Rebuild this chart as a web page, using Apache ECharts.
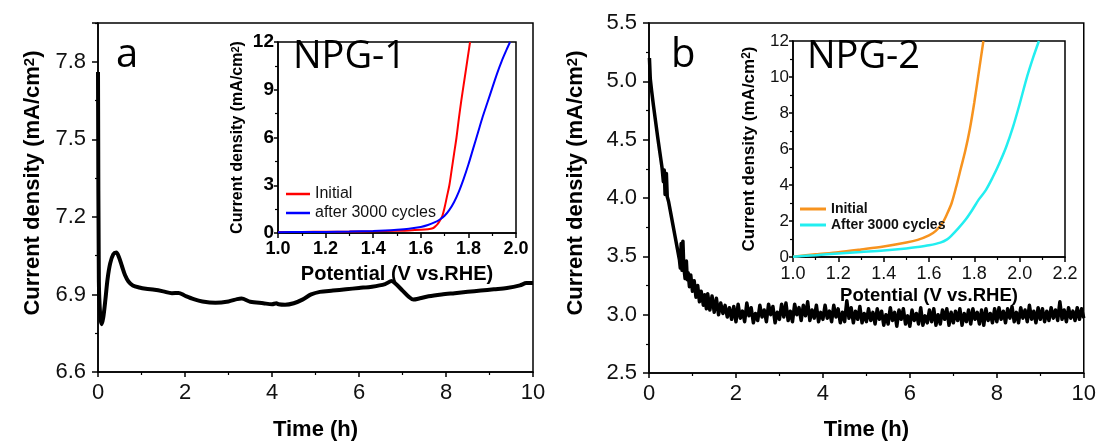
<!DOCTYPE html>
<html>
<head>
<meta charset="utf-8">
<title>NPG stability</title>
<script src="https://cdn.jsdelivr.net/npm/echarts@6/dist/echarts.min.js"></script>
<style>
  html, body { margin: 0; padding: 0; background: #fff; }
  #chart { width: 1099px; height: 446px; }
</style>
</head>
<body>
<div id="chart"></div>
<script>
// ---- data ----
// panel a: NPG-1 chronoamperometry (time h, current mA/cm2)
const npg1Time = [0, 0.02, 0.05, 0.08, 0.12, 0.17, 0.22, 0.28, 0.35, 0.42, 0.48, 0.55, 0.62, 0.7, 0.8, 0.95,
  1.1, 1.3, 1.5, 1.7, 1.85, 2.0, 2.2, 2.4, 2.7, 3.0, 3.2, 3.3, 3.5, 3.8, 4.0, 4.1, 4.15, 4.3, 4.5, 4.7,
  4.9, 5.1, 5.4, 5.7, 6.0, 6.3, 6.6, 6.75, 6.85, 7.0, 7.15, 7.25, 7.4, 7.6, 7.9, 8.2, 8.5, 8.8, 9.1,
  9.4, 9.7, 9.85, 10];
const npg1Current = [7.76, 6.95, 6.82, 6.785, 6.81, 6.88, 6.96, 7.02, 7.055, 7.062, 7.045, 7.01, 6.975, 6.95, 6.935, 6.927,
  6.922, 6.918, 6.912, 6.905, 6.906, 6.895, 6.882, 6.873, 6.868, 6.873, 6.882, 6.884, 6.872, 6.866, 6.862, 6.866, 6.862, 6.86, 6.866, 6.88,
  6.9, 6.91, 6.915, 6.92, 6.925, 6.93, 6.94, 6.952, 6.94, 6.915, 6.89, 6.88, 6.885, 6.893, 6.9, 6.905, 6.91, 6.915, 6.92,
  6.925, 6.935, 6.944, 6.944];

// panel b: NPG-2 chronoamperometry, [time h, current mA/cm2]
const npg2Stability = [
  [0.01, 5.20], [0.03, 5.02], [0.06, 4.92], [0.10, 4.80], [0.15, 4.66], [0.20, 4.52], [0.25, 4.39], [0.30, 4.26],
  [0.33, 4.14], [0.35, 4.24], [0.37, 4.03], [0.40, 4.21], [0.42, 4.01], [0.45, 3.97], [0.50, 3.87], [0.55, 3.77],
  [0.60, 3.67], [0.65, 3.57], [0.70, 3.47], [0.72, 3.40], [0.74, 3.61], [0.76, 3.38], [0.78, 3.63], [0.80, 3.41],
  [0.83, 3.31], [0.86, 3.46], [0.88, 3.30], [0.90, 3.36], [0.93, 3.24], [0.96, 3.34], [1.00, 3.20], [1.04, 3.29],
  [1.08, 3.15], [1.12, 3.25], [1.16, 3.11], [1.20, 3.20], [1.25, 3.08], [1.28, 3.17], [1.32, 3.05], [1.35, 3.18],
  [1.40, 3.04], [1.45, 3.16], [1.50, 3.02], [1.55, 3.14], [1.60, 3.00], [1.65, 3.10], [1.70, 3.01], [1.75, 3.08],
  [1.80, 2.98], [1.85, 3.06], [1.90, 2.96], [1.95, 3.07], [2.00, 2.94],
  [2.05, 3.09], [2.10, 2.97], [2.15, 3.03], [2.20, 2.94], [2.25, 3.10], [2.30, 2.99], [2.35, 3.06], [2.40, 2.93],
  [2.45, 3.01], [2.50, 2.95], [2.55, 3.08], [2.60, 2.98], [2.65, 3.04], [2.70, 2.94], [2.75, 3.09], [2.80, 3.00],
  [2.85, 3.07], [2.90, 2.93], [2.95, 3.02], [3.00, 2.96],
  [3.05, 3.09], [3.10, 2.98], [3.15, 3.10], [3.20, 2.95], [3.25, 3.03], [3.30, 2.94], [3.35, 3.09], [3.40, 3.00],
  [3.45, 3.06], [3.50, 2.95], [3.55, 3.08], [3.60, 2.99], [3.65, 3.11], [3.70, 2.95], [3.75, 3.04], [3.80, 2.97],
  [3.85, 3.08], [3.90, 2.94], [3.95, 3.02], [4.00, 2.96],
  [4.05, 3.08], [4.10, 2.97], [4.15, 3.03], [4.20, 2.94], [4.25, 3.08], [4.30, 2.98], [4.35, 3.05], [4.40, 2.93],
  [4.45, 3.02], [4.50, 2.94], [4.55, 3.12], [4.60, 2.97], [4.65, 3.06], [4.70, 2.93], [4.75, 3.03], [4.80, 2.96],
  [4.85, 3.07], [4.90, 2.93], [4.95, 3.01], [5.00, 2.94],
  [5.05, 3.05], [5.10, 2.95], [5.15, 3.02], [5.20, 2.92], [5.25, 3.05], [5.30, 2.96], [5.35, 3.03], [5.40, 2.91],
  [5.45, 3.00], [5.50, 2.92], [5.55, 3.06], [5.60, 2.95], [5.65, 3.02], [5.70, 2.90], [5.75, 3.04], [5.80, 2.96],
  [5.85, 3.05], [5.90, 2.92], [5.95, 2.99], [6.00, 2.90],
  [6.05, 3.04], [6.10, 2.95], [6.15, 3.01], [6.20, 2.92], [6.25, 3.06], [6.30, 2.91], [6.35, 2.99], [6.40, 2.93],
  [6.45, 3.04], [6.50, 2.94], [6.55, 3.05], [6.60, 2.91], [6.65, 3.00], [6.70, 2.92], [6.75, 3.04], [6.80, 2.96],
  [6.85, 3.05], [6.90, 2.91], [6.95, 3.02], [7.00, 2.93],
  [7.05, 3.03], [7.10, 2.95], [7.15, 3.05], [7.20, 2.91], [7.25, 3.01], [7.30, 2.94], [7.35, 3.04], [7.40, 2.92],
  [7.45, 3.05], [7.50, 2.96], [7.55, 3.02], [7.60, 2.92], [7.65, 3.04], [7.70, 2.91], [7.75, 3.05], [7.80, 2.95],
  [7.85, 3.01], [7.90, 2.93], [7.95, 3.05], [8.00, 2.94],
  [8.05, 3.06], [8.10, 2.96], [8.15, 3.03], [8.20, 2.93], [8.25, 3.05], [8.30, 2.97], [8.35, 3.07], [8.40, 2.94],
  [8.45, 3.02], [8.50, 2.93], [8.55, 3.06], [8.60, 2.97], [8.65, 3.04], [8.70, 2.94], [8.75, 3.08], [8.80, 2.96],
  [8.85, 3.03], [8.90, 2.93], [8.95, 3.06], [9.00, 2.96],
  [9.05, 3.05], [9.10, 2.94], [9.15, 3.03], [9.20, 2.95], [9.25, 3.06], [9.30, 2.97], [9.35, 3.04], [9.40, 2.95],
  [9.45, 3.11], [9.50, 2.96], [9.55, 3.04], [9.60, 2.94], [9.65, 3.06], [9.70, 2.97], [9.75, 3.03], [9.80, 2.95],
  [9.85, 3.06], [9.90, 2.96], [9.95, 3.05], [10.00, 2.97]
];

// inset a: NPG-1 LSV, [potential V vs RHE, current mA/cm2]
const npg1Initial = [[1.0, 0.06], [1.1, 0.07], [1.2, 0.08], [1.3, 0.09], [1.4, 0.11], [1.5, 0.14], [1.55, 0.16],
  [1.6, 0.2], [1.63, 0.24], [1.65, 0.3], [1.66, 0.4], [1.67, 0.55], [1.68, 0.78], [1.69, 1.05], [1.70, 1.6],
  [1.71, 2.3], [1.72, 3.0], [1.73, 4.0], [1.74, 5.0], [1.75, 6.0], [1.76, 7.2], [1.77, 8.3], [1.78, 9.3],
  [1.79, 10.3], [1.80, 11.3], [1.807, 12]];
const npg1After = [[1.0, 0.05], [1.1, 0.06], [1.2, 0.07], [1.3, 0.09], [1.4, 0.12], [1.45, 0.15], [1.5, 0.2],
  [1.55, 0.27], [1.6, 0.38], [1.63, 0.5], [1.66, 0.68], [1.68, 0.85], [1.7, 1.08], [1.72, 1.45], [1.74, 1.95],
  [1.76, 2.6], [1.78, 3.4], [1.8, 4.3], [1.82, 5.3], [1.84, 6.3], [1.86, 7.3], [1.88, 8.2], [1.9, 9.1],
  [1.92, 10.0], [1.94, 10.8], [1.96, 11.5], [1.975, 12]];

// inset b: NPG-2 LSV
const npg2Initial = [[1.0, 0.02], [1.1, 0.15], [1.2, 0.27], [1.3, 0.42], [1.4, 0.58], [1.5, 0.8], [1.55, 0.95],
  [1.6, 1.2], [1.63, 1.45], [1.66, 1.9], [1.68, 2.4], [1.70, 3.0], [1.72, 3.9], [1.74, 4.9], [1.76, 5.9],
  [1.78, 7.1], [1.80, 8.6], [1.82, 10.3], [1.84, 12]];
const npg2After = [[1.0, 0.02], [1.1, 0.1], [1.2, 0.2], [1.3, 0.28], [1.4, 0.36], [1.5, 0.47], [1.55, 0.55],
  [1.6, 0.65], [1.65, 0.8], [1.68, 0.98], [1.7, 1.2], [1.73, 1.6], [1.76, 2.05], [1.79, 2.6], [1.82, 3.2],
  [1.85, 3.7], [1.88, 4.4], [1.91, 5.2], [1.94, 6.1], [1.97, 7.2], [2.0, 8.5], [2.03, 9.9], [2.06, 11.1],
  [2.085, 12]];

const FONT = 'Liberation Sans, Arial, sans-serif';
const densityName = 'Current density (mA/cm{s|2})';

// shared axis look: black lines, ticks pointing out, minor ticks
function axisStyle(opt) {
  return Object.assign({
    type: 'value',
    splitLine: { show: false },
    axisLine: { show: true, onZero: false, lineStyle: { color: '#000', width: 1.5 } },
    axisTick: { show: true, inside: false, length: 5, lineStyle: { color: '#000', width: 1.5 } },
    minorTick: { show: true, splitNumber: 2, length: 3, lineStyle: { color: '#000', width: 1.2 } },
    nameLocation: 'middle'
  }, opt);
}

const chartInstance = echarts.init(document.getElementById('chart'), null, { renderer: 'canvas' });

const option = {
  animation: false,
  backgroundColor: '#fff',
  grid: [
    { left: 98, top: 23, width: 435, height: 353, show: true, borderColor: '#000', borderWidth: 1.5 },
    { left: 649, top: 23, width: 435, height: 350, show: true, borderColor: '#000', borderWidth: 1.5 },
    { left: 278, top: 42, width: 238, height: 191, show: true, backgroundColor: '#fff', borderColor: '#000', borderWidth: 1.5 },
    { left: 793, top: 41, width: 272, height: 216, show: true, backgroundColor: '#fff', borderColor: '#000', borderWidth: 1.5 }
  ],
  xAxis: [
    axisStyle({
      gridIndex: 0, min: 0, max: 10, interval: 2,
      name: 'Time (h)', nameGap: 47,
      nameTextStyle: { fontFamily: FONT, fontSize: 22, fontWeight: 'bold', color: '#000' },
      axisLabel: { fontFamily: FONT, fontSize: 22, color: '#111', margin: 10 }
    }),
    axisStyle({
      gridIndex: 1, min: 0, max: 10, interval: 2,
      name: 'Time (h)', nameGap: 46,
      nameTextStyle: { fontFamily: FONT, fontSize: 22, fontWeight: 'bold', color: '#000' },
      axisLabel: { fontFamily: FONT, fontSize: 22, color: '#111', margin: 10 }
    }),
    axisStyle({
      gridIndex: 2, min: 1, max: 2, interval: 0.2,
      name: 'Potential (V vs.RHE)', nameGap: 31,
      nameTextStyle: { fontFamily: FONT, fontSize: 20, fontWeight: 'bold', color: '#000' },
      axisLabel: { fontFamily: FONT, fontSize: 18, fontWeight: 'bold', color: '#000', margin: 7,
        formatter: v => v.toFixed(1) }
    }),
    axisStyle({
      gridIndex: 3, min: 1, max: 2.2, interval: 0.2,
      name: 'Potential (V vs.RHE)', nameGap: 29,
      nameTextStyle: { fontFamily: FONT, fontSize: 18.5, fontWeight: 'bold', color: '#000' },
      axisLabel: { fontFamily: FONT, fontSize: 18, color: '#111', margin: 8,
        formatter: v => v.toFixed(1) }
    })
  ],
  yAxis: [
    axisStyle({
      gridIndex: 0, min: 6.6, max: 7.95, interval: 0.3,
      name: densityName, nameGap: 54,
      // left padding pushes the rotated title up, as in the original
      nameTextStyle: { fontFamily: FONT, fontSize: 22, fontWeight: 'bold', color: '#000', padding: [0, 0, 0, 29],
        rich: { s: { fontFamily: FONT, fontSize: 15, fontWeight: 'bold', verticalAlign: 'top' } } },
      axisTick: { show: true, length: 6, lineStyle: { color: '#000', width: 1.5 } },
      axisLabel: { fontFamily: FONT, fontSize: 22, color: '#111', margin: 12, showMaxLabel: false,
        formatter: v => v.toFixed(1) }
    }),
    axisStyle({
      gridIndex: 1, min: 2.5, max: 5.5, interval: 0.5,
      name: densityName, nameGap: 62,
      nameTextStyle: { fontFamily: FONT, fontSize: 22, fontWeight: 'bold', color: '#000', padding: [0, 0, 0, 30],
        rich: { s: { fontFamily: FONT, fontSize: 15, fontWeight: 'bold', verticalAlign: 'top' } } },
      axisTick: { show: true, length: 6, lineStyle: { color: '#000', width: 1.5 } },
      axisLabel: { fontFamily: FONT, fontSize: 22, color: '#111', margin: 12,
        formatter: v => v.toFixed(1) }
    }),
    axisStyle({
      gridIndex: 2, min: 0, max: 12, interval: 3,
      name: densityName, nameGap: 32,
      nameTextStyle: { fontFamily: FONT, fontSize: 16, fontWeight: 'bold', color: '#000',
        rich: { s: { fontFamily: FONT, fontSize: 11, fontWeight: 'bold', verticalAlign: 'top' } } },
      axisTick: { show: true, length: 4, lineStyle: { color: '#000', width: 1.5 } },
      axisLabel: { fontFamily: FONT, fontSize: 19, fontWeight: 'bold', color: '#000', margin: 4 }
    }),
    axisStyle({
      gridIndex: 3, min: 0, max: 12, interval: 2,
      name: densityName, nameGap: 35,
      nameTextStyle: { fontFamily: FONT, fontSize: 17, fontWeight: 'bold', color: '#000',
        rich: { s: { fontFamily: FONT, fontSize: 12, fontWeight: 'bold', verticalAlign: 'top' } } },
      axisTick: { show: true, length: 4, lineStyle: { color: '#000', width: 1.5 } },
      axisLabel: { fontFamily: FONT, fontSize: 17, color: '#111', margin: 4 }
    })
  ],
  legend: [
    {
      left: 281, top: 181, orient: 'vertical', icon: 'rect', itemWidth: 24, itemHeight: 2.5, itemGap: 3,
      selectedMode: false,
      textStyle: { fontFamily: FONT, fontSize: 16, color: '#111' },
      data: [
        { name: 'Initial', itemStyle: { color: '#ff0000' } },
        { name: 'after 3000 cycles', itemStyle: { color: '#0000ff' } }
      ]
    },
    {
      left: 795, top: 197, orient: 'vertical', icon: 'rect', itemWidth: 26, itemHeight: 3, itemGap: 2,
      selectedMode: false,
      textStyle: { fontFamily: FONT, fontSize: 14, fontWeight: 'bold', color: '#111' },
      data: [
        { name: 'Initial', itemStyle: { color: '#f7931e' } },
        { name: 'After 3000 cycles', itemStyle: { color: '#22eef0' } }
      ]
    }
  ],
  series: [
    {
      name: 'NPG-1 stability', type: 'line', xAxisIndex: 0, yAxisIndex: 0, showSymbol: false,
      smooth: 0.3, lineStyle: { color: '#000', width: 4 },
      data: npg1Time.map((t, i) => [t, npg1Current[i]])
    },
    {
      name: 'NPG-2 stability', type: 'line', xAxisIndex: 1, yAxisIndex: 1, showSymbol: false,
      lineStyle: { color: '#000', width: 3.5, join: 'round' },
      data: npg2Stability
    },
    {
      name: 'Initial', type: 'line', xAxisIndex: 2, yAxisIndex: 2, showSymbol: false, smooth: 0.3,
      color: '#ff0000', lineStyle: { color: '#ff0000', width: 2 }, data: npg1Initial
    },
    {
      name: 'after 3000 cycles', type: 'line', xAxisIndex: 2, yAxisIndex: 2, showSymbol: false, smooth: 0.3,
      color: '#0000ff', lineStyle: { color: '#0000ff', width: 2 }, data: npg1After
    },
    {
      name: 'Initial', type: 'line', xAxisIndex: 3, yAxisIndex: 3, showSymbol: false, smooth: 0.3,
      color: '#f7931e', lineStyle: { color: '#f7931e', width: 2.5 }, data: npg2Initial
    },
    {
      name: 'After 3000 cycles', type: 'line', xAxisIndex: 3, yAxisIndex: 3, showSymbol: false, smooth: 0.3,
      color: '#22eef0', lineStyle: { color: '#22eef0', width: 2.5 }, data: npg2After
    }
  ],
  // panel letters and inset titles
  graphic: [
    { type: 'text', left: 116, top: 36, z: 100,
      style: { text: 'a', font: '40px "Open Sans", sans-serif', fill: '#000' } },
    { type: 'text', left: 671, top: 36, z: 100,
      style: { text: 'b', font: '40px "Open Sans", sans-serif', fill: '#000' } },
    { type: 'text', left: 293, top: 38, z: 100,
      style: { text: 'NPG-1', font: '38px "Open Sans", sans-serif', fill: '#000' } },
    { type: 'text', left: 807, top: 38, z: 100,
      style: { text: 'NPG-2', font: '38px "Open Sans", sans-serif', fill: '#000' } }
  ]
};

chartInstance.setOption(option);
</script>
</body>
</html>
